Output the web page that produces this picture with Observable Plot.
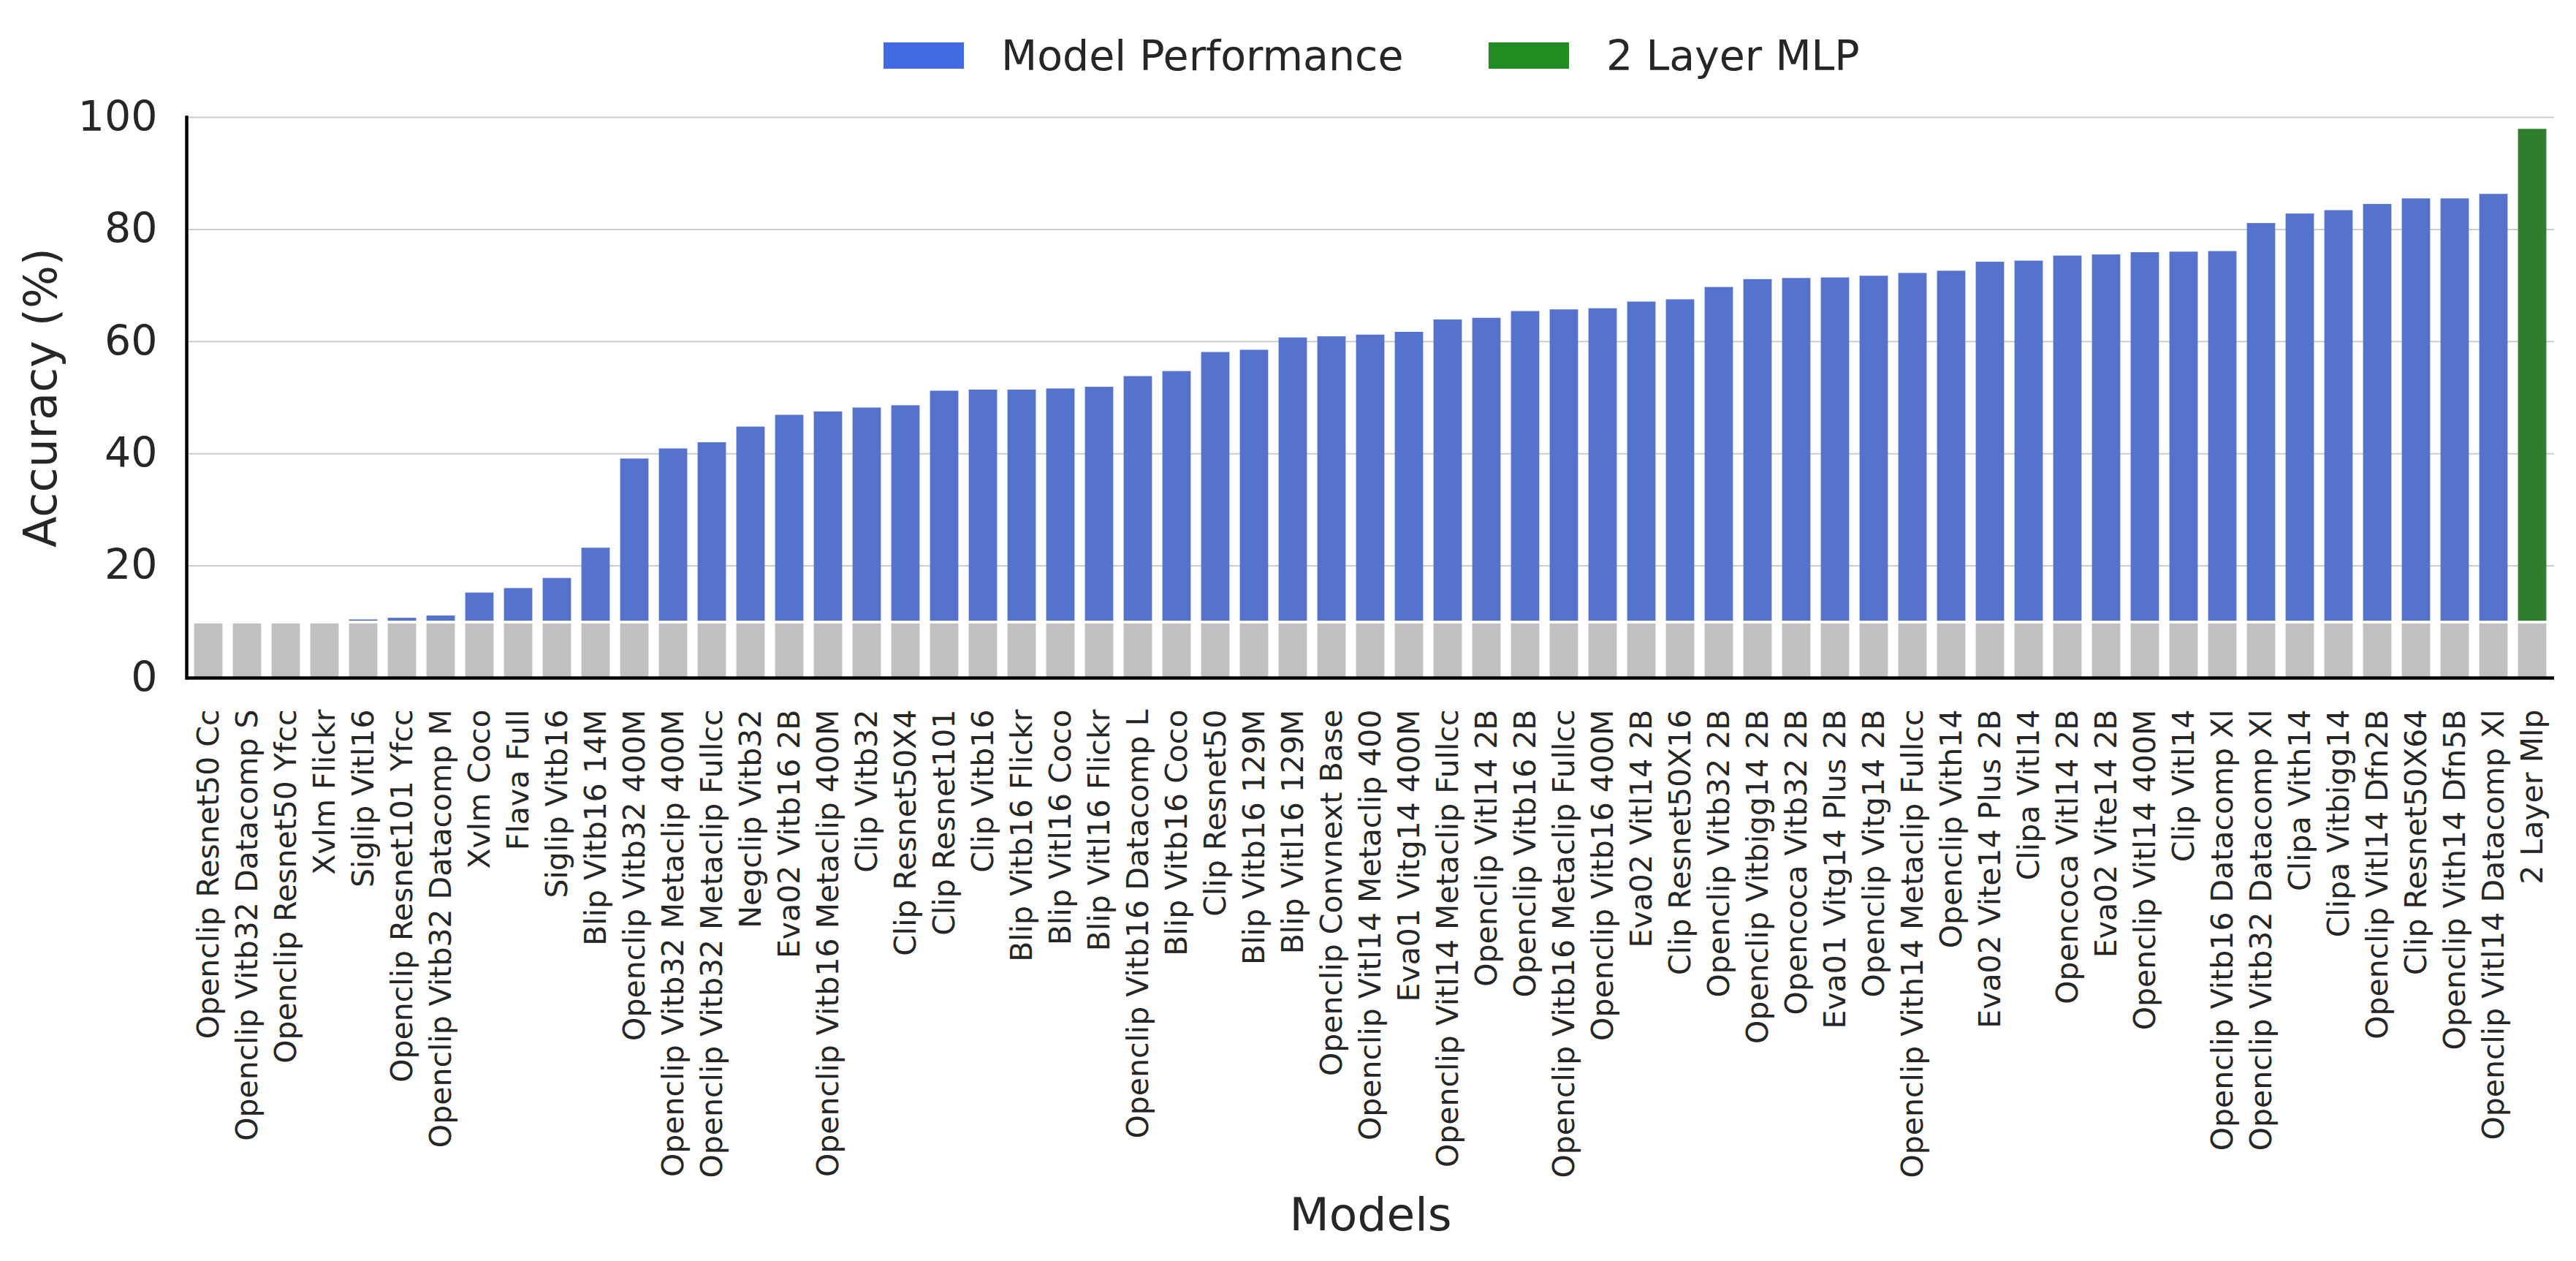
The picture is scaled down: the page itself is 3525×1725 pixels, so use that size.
<!DOCTYPE html>
<html>
<head>
<meta charset="utf-8">
<script src="https://cdn.jsdelivr.net/npm/d3@7"></script>
<script src="https://cdn.jsdelivr.net/npm/@observablehq/plot@0.6"></script>
<style>
  html, body { margin: 0; padding: 0; background: #fff; overflow: hidden; }
  #wrap { position: relative; width: 3525px; height: 1725px; font-family: "DejaVu Sans", sans-serif; color: #262626; }
  #legend { position: relative; width: 3525px; height: 130px; }
  .sw { position: absolute; top: 58px; width: 110px; height: 36px; }
  .lt { position: absolute; top: 48px; font-size: 57px; line-height: 57px; white-space: nowrap; }
  svg { display: block; }
</style>
</head>
<body>
<div id="wrap">
  <div id="legend"></div>
  <div id="chart"></div>
</div>
<script>
const models = [
  "Openclip Resnet50 Cc", "Openclip Vitb32 Datacomp S", "Openclip Resnet50 Yfcc", "Xvlm Flickr",
  "Siglip Vitl16", "Openclip Resnet101 Yfcc", "Openclip Vitb32 Datacomp M", "Xvlm Coco",
  "Flava Full", "Siglip Vitb16", "Blip Vitb16 14M", "Openclip Vitb32 400M",
  "Openclip Vitb32 Metaclip 400M", "Openclip Vitb32 Metaclip Fullcc", "Negclip Vitb32", "Eva02 Vitb16 2B",
  "Openclip Vitb16 Metaclip 400M", "Clip Vitb32", "Clip Resnet50X4", "Clip Resnet101",
  "Clip Vitb16", "Blip Vitb16 Flickr", "Blip Vitl16 Coco", "Blip Vitl16 Flickr",
  "Openclip Vitb16 Datacomp L", "Blip Vitb16 Coco", "Clip Resnet50", "Blip Vitb16 129M",
  "Blip Vitl16 129M", "Openclip Convnext Base", "Openclip Vitl14 Metaclip 400", "Eva01 Vitg14 400M",
  "Openclip Vitl14 Metaclip Fullcc", "Openclip Vitl14 2B", "Openclip Vitb16 2B", "Openclip Vitb16 Metaclip Fullcc",
  "Openclip Vitb16 400M", "Eva02 Vitl14 2B", "Clip Resnet50X16", "Openclip Vitb32 2B",
  "Openclip Vitbigg14 2B", "Opencoca Vitb32 2B", "Eva01 Vitg14 Plus 2B", "Openclip Vitg14 2B",
  "Openclip Vith14 Metaclip Fullcc", "Openclip Vith14", "Eva02 Vite14 Plus 2B", "Clipa Vitl14",
  "Opencoca Vitl14 2B", "Eva02 Vite14 2B", "Openclip Vitl14 400M", "Clip Vitl14",
  "Openclip Vitb16 Datacomp Xl", "Openclip Vitb32 Datacomp Xl", "Clipa Vith14", "Clipa Vitbigg14",
  "Openclip Vitl14 Dfn2B", "Clip Resnet50X64", "Openclip Vith14 Dfn5B", "Openclip Vitl14 Datacomp Xl",
  "2 Layer Mlp"
];
const accuracy = [
  10.0, 10.0, 10.0, 10.0,
  10.6, 10.9, 11.3, 15.4,
  16.2, 18.0, 23.4, 39.3,
  41.1, 42.2, 45.0, 47.1,
  47.7, 48.4, 48.8, 51.4,
  51.6, 51.6, 51.8, 52.1,
  54.0, 54.9, 58.3, 58.7,
  60.9, 61.1, 61.4, 61.9,
  64.1, 64.4, 65.6, 65.9,
  66.1, 67.3, 67.7, 69.9,
  71.3, 71.5, 71.6, 71.9,
  72.4, 72.8, 74.4, 74.6,
  75.5, 75.7, 76.1, 76.2,
  76.3, 81.3, 83.0, 83.6,
  84.7, 85.7, 85.7, 86.5,
  98.1
];
const baselineLevel = 10;            // grey base segment of every bar
const mlpModel = "2 Layer Mlp";
const seriesNames = ["Model Performance", "2 Layer MLP"];
const legendColors = ["#4169E1", "#228B22"];
const barColors = ["#5573CD", "#2F7E2F"];
const baseColor = "#C0C0C0";
const yTicks = [0, 20, 40, 60, 80, 100];
const xTitle = "Models";
const yTitle = "Accuracy (%)";

const data = models.map((m, i) => ({
  model: m,
  acc: accuracy[i],
  series: m === mlpModel ? seriesNames[1] : seriesNames[0]
}));

// Legend (HTML, above the SVG)
const legend = document.getElementById("legend");
const legendPos = [{sw: 1209, tx: 1370}, {sw: 2037, tx: 2198}];
seriesNames.forEach((name, i) => {
  const s = document.createElement("div");
  s.className = "sw";
  s.style.left = legendPos[i].sw + "px";
  s.style.background = legendColors[i];
  legend.appendChild(s);
  const t = document.createElement("div");
  t.className = "lt";
  t.style.left = legendPos[i].tx + "px";
  t.textContent = name;
  legend.appendChild(t);
});

const chart = Plot.plot({
  width: 3525,
  height: 1595,
  marginTop: 30,
  marginBottom: 798,
  marginLeft: 255,
  marginRight: 30,
  style: {fontFamily: "DejaVu Sans", color: "#262626", background: "white", overflow: "visible"},
  x: {domain: models, paddingInner: 0.2, paddingOuter: 0.1, align: 0.5, label: null},
  y: {domain: [0, 100], label: null},
  color: {domain: seriesNames, range: barColors},
  marks: [
    Plot.gridY(yTicks, {stroke: "#cccccc", strokeOpacity: 1, strokeWidth: 2}),
    Plot.barY(data, {x: "model", y1: 0, y2: baselineLevel, fill: baseColor,
      insetTop: 2.5, insetLeft: 1.6, insetRight: 1.6}),
    Plot.barY(data.filter(d => d.acc > baselineLevel), {x: "model", y1: baselineLevel, y2: "acc", fill: "series",
      insetBottom: 1.2, insetTop: 1.7, insetLeft: 1.6, insetRight: 1.6}),
    Plot.ruleY([0], {stroke: "black", strokeWidth: 4.5}),
    Plot.frame({anchor: "left", stroke: "black", strokeWidth: 4.5}),
    Plot.axisY({ticks: yTicks, tickSize: 0, tickPadding: 40, fontSize: 57, label: null}),
    Plot.axisX({tickSize: 0, tickPadding: 43, tickRotate: -90, textAnchor: "end", lineAnchor: "middle", fontSize: 41, label: null}),
    Plot.text([xTitle], {text: d => d, frameAnchor: "bottom", textAnchor: "middle", lineAnchor: "middle", dy: 735, fontSize: 63}),
    Plot.text([yTitle], {text: d => d, frameAnchor: "left", textAnchor: "middle", lineAnchor: "middle", dx: -198, rotate: -90, fontSize: 62})
  ]
});
document.getElementById("chart").appendChild(chart);
</script>
</body>
</html>
